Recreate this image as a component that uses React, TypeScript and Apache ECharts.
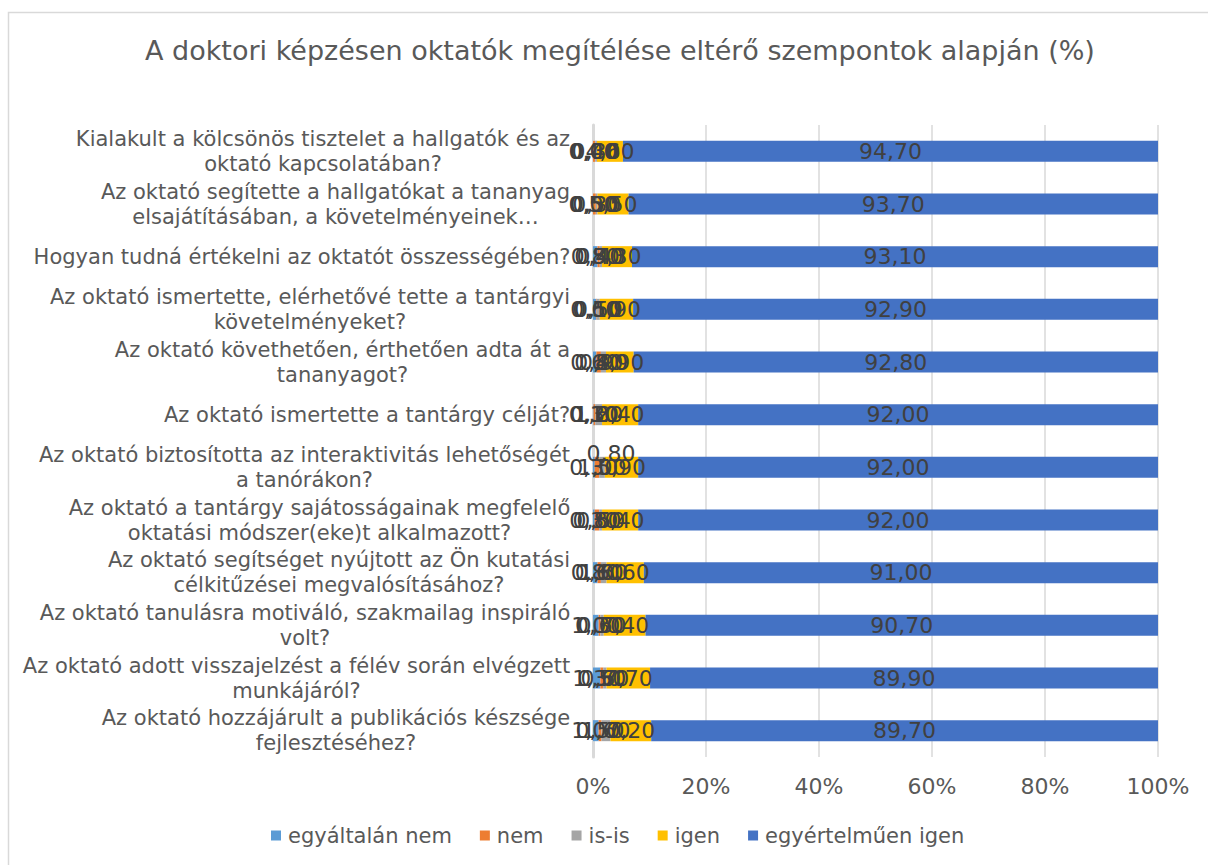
import React, { useEffect, useRef } from "react";
import * as echarts from "echarts";

const categories = [
  "Kialakult a kölcsönös tisztelet a hallgatók és az\noktató kapcsolatában?",
  "Az oktató segítette a hallgatókat a tananyag\nelsajátításában, a követelményeinek…",
  "Hogyan tudná értékelni az oktatót összességében?",
  "Az oktató ismertette, elérhetővé tette a tantárgyi\nkövetelményeket?",
  "Az oktató követhetően, érthetően adta át a\ntananyagot?",
  "Az oktató ismertette a tantárgy célját?",
  "Az oktató biztosította az interaktivitás lehetőségét\na tanórákon?",
  "Az oktató a tantárgy sajátosságainak megfelelő\noktatási módszer(eke)t alkalmazott?",
  "Az oktató segítséget nyújtott az Ön kutatási\ncélkitűzései megvalósításához?",
  "Az oktató tanulásra motiváló, szakmailag inspiráló\nvolt?",
  "Az oktató adott visszajelzést a félév során elvégzett\nmunkájáról?",
  "Az oktató hozzájárult a publikációs készsége\nfejlesztéséhez?",
];

const seriesNames = ["egyáltalán nem", "nem", "is-is", "igen", "egyértelműen igen"];
const egyaltalanNem = [0.0, 0.0, 0.8, 0.6, 0.6, 0.1, 0.3, 0.3, 0.8, 1.0, 1.3, 1.0];
const nem = [0.4, 0.5, 0.4, 0.1, 0.8, 0.3, 0.8, 0.8, 0.6, 0.3, 0.5, 0.5];
const isIs = [0.3, 0.3, 0.4, 0.5, 0.9, 1.2, 1.0, 0.5, 1.0, 0.6, 0.6, 1.6];
const igen = [4.6, 5.5, 5.3, 5.9, 4.9, 6.4, 5.9, 6.4, 6.6, 7.4, 7.7, 7.2];
const egyertelmuenIgen = [94.7, 93.7, 93.1, 92.9, 92.8, 92.0, 92.0, 92.0, 91.0, 90.7, 89.9, 89.7];
const xTicks = [0, 20, 40, 60, 80, 100];

const colors = ["#5B9BD5", "#ED7D31", "#A5A5A5", "#FFC000", "#4472C4"];
const FONT = "DejaVu Sans";

export default function App() {
  const ref = useRef<HTMLDivElement>(null);
  useEffect(() => {
    if (!ref.current) return;
    const chart = echarts.init(ref.current, undefined, { renderer: "svg" });
    const canvas = document.createElement("canvas");
    const ctx = canvas.getContext("2d")!;
    ctx.font = `21px "${FONT}"`;
    const rich: Record<string, any> = {};
    categories.forEach((c, i) => {
      const w = Math.max(...c.split("\n").map((l) => ctx.measureText(l).width));
      rich["c" + i] = {
        width: Math.ceil(w) + 1,
        align: "center",
        fontSize: 21,
        fontFamily: FONT,
        color: "#595959",
        lineHeight: 25,
      };
    });
    const allData = [egyaltalanNem, nem, isIs, igen, egyertelmuenIgen];
    const fmt = (v: number) => v.toFixed(2).replace(".", ",");
    chart.setOption({
      animation: false,
      textStyle: { fontFamily: FONT },
      title: {
        text: "A doktori képzésen oktatók megítélése eltérő szempontok alapján (%)",
        left: 140,
        top: 32,
        textStyle: { fontSize: 27, fontWeight: "normal", color: "#595959", fontFamily: FONT },
      },
      graphic: [
        {
          type: "rect",
          shape: { x: 8.5, y: 12.5, width: 1400, height: 1000 },
          style: { fill: "none", stroke: "#d9d9d9", lineWidth: 1.5 },
          silent: true,
        },
      ],
      legend: {
        bottom: 14,
        left: 266,
        itemWidth: 10,
        itemHeight: 10,
        itemGap: 28,
        icon: "rect",
        data: seriesNames,
        textStyle: { fontSize: 21, color: "#595959", fontFamily: FONT, padding: [0, 0, 0, 2] },
      },
      grid: { left: 593, right: 50, top: 125, bottom: 108 },
      xAxis: {
        type: "value",
        min: 0,
        max: 100,
        interval: 20,
        axisLine: { show: false },
        axisTick: { show: false },
        splitLine: { show: true, lineStyle: { color: "#d9d9d9", width: 1.5 } },
        axisLabel: {
          fontSize: 22,
          color: "#595959",
          margin: 18,
          fontFamily: FONT,
          customValues: xTicks,
          formatter: (v: number) => v + "%",
        },
      },
      yAxis: {
        type: "category",
        inverse: true,
        data: categories,
        axisLine: { show: true, lineStyle: { color: "#d9d9d9", width: 3 } },
        axisTick: { show: false },
        axisLabel: {
          margin: 22,
          rich,
          formatter: (v: string, i: number) =>
            v.split("\n").map((l) => `{c${i}|${l}}`).join("\n"),
        },
      },
      series: seriesNames.map((name, si) => ({
        name,
        type: "bar",
        stack: "total",
        barWidth: 21,
        itemStyle: { color: colors[si] },
        label: {
          show: true,
          position: "inside",
          color: "#404040",
          fontSize: 22,
          fontFamily: FONT,
          formatter: (p: any) => fmt(p.value),
        },
        data: allData[si].map((v, i) =>
          si === 1 && i === 6 ? { value: v, label: { offset: [14, -14] } } : v
        ),
      })),
    });
    return () => chart.dispose();
  }, []);
  return (
    <div
      ref={ref}
      style={{ position: "absolute", left: 0, top: 0, width: 1208, height: 865, background: "#fff" }}
    />
  );
}
